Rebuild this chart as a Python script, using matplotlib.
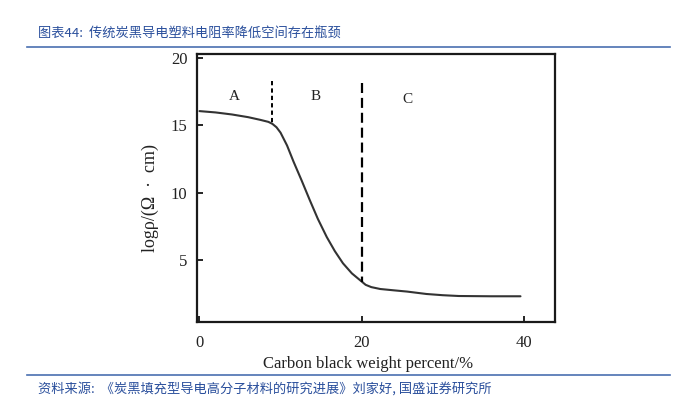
import matplotlib
matplotlib.use('Agg')
import matplotlib.pyplot as plt
from matplotlib.lines import Line2D

plt.rcParams['font.family'] = ['Noto Sans CJK SC', 'DejaVu Sans']

# Datos
carbono = [0, 2, 4, 6, 7.5, 8.5, 9, 9.5, 10, 10.8, 11.6, 12.6, 13.6, 14.6, 15.7, 16.7,
           17.7, 18.8, 19.8, 20.5, 21.2, 22.3, 24, 25.6, 28, 30, 32, 36, 39.6]
log_rho = [16.05, 15.95, 15.8, 15.6, 15.4, 15.25, 15.1, 14.85, 14.45, 13.5, 12.3, 10.9, 9.45, 8.05, 6.7, 5.65,
           4.75, 4.0, 3.5, 3.15, 2.98, 2.84, 2.74, 2.65, 2.47, 2.38, 2.32, 2.3, 2.3]
zonas = ['A', 'B', 'C']
zonas_x = [4.3, 14.3, 25.6]
zonas_y = [17.1, 17.1, 16.9]
limites = [9, 20]
xticks = [0, 20, 40]
yticks = [5, 10, 15, 20]

titulo = '图表44:  传统炭黑导电塑料电阻率降低空间存在瓶颈'
fuente = '资料来源:  《炭黑填充型导电高分子材料的研究进展》刘家好, 国盛证券研究所'
azul = '#2a4f9c'
serif = 'Liberation Serif'

fig = plt.figure(figsize=(6.89, 3.99), dpi=100, facecolor='white')
ax = fig.add_axes([0.286, 0.194, 0.520, 0.671])

ax.plot(carbono, log_rho, color='#333333', linewidth=1.5,
        solid_capstyle='round', solid_joinstyle='round')

# Límites de zona
ax.plot([limites[0], limites[0]], [18.3, 15.1], color='black', linewidth=1.4,
        linestyle=(0, (2.2, 1.6)))
ax.plot([limites[1], limites[1]], [18.1, 3.35], color='black', linewidth=1.6,
        linestyle=(0, (4.5, 2.2)))

for z, zx, zy in zip(zonas, zonas_x, zonas_y):
    ax.text(zx, zy, z, fontsize=11, family=serif, ha='center', va='center', color='#222222')

ax.set_xlim(-0.3, 43.9)
ax.set_ylim(0.42, 20.3)
ax.set_xticks(xticks)
ax.set_yticks(yticks)
ax.tick_params(direction='in', length=4, width=1.2, labelsize=12, pad=10)
ax.tick_params(axis='y', pad=7)
for lbl in ax.get_xticklabels() + ax.get_yticklabels():
    lbl.set_family(serif)
    lbl.set_color('#222222')
for s in ax.spines.values():
    s.set_linewidth(1.6)
    s.set_color('#1a1a1a')

ax.set_xlabel('Carbon black weight percent/%', family=serif, fontsize=12, color='#222222')
ax.xaxis.set_label_coords(0.478, -0.13)
ax.set_ylabel('logρ/(Ω  ·  cm)', family=serif, fontsize=13, color='#222222')
ax.yaxis.set_label_coords(-0.105, 0.46)

# Cabecera y pie
fig.text(38 / 689, 1 - 33 / 399, titulo, fontsize=9.5, color=azul, va='center', ha='left')
fig.add_artist(Line2D([27 / 689, 670 / 689], [1 - 47 / 399, 1 - 47 / 399], color='#4a6fb0', linewidth=1.2))
fig.add_artist(Line2D([27 / 689, 670 / 689], [1 - 375 / 399, 1 - 375 / 399], color='#4a6fb0', linewidth=1.2))
fig.text(38 / 689, 1 - 389 / 399, fuente, fontsize=9.5, color=azul, va='center', ha='left')

fig.savefig('out.png', dpi=100)
